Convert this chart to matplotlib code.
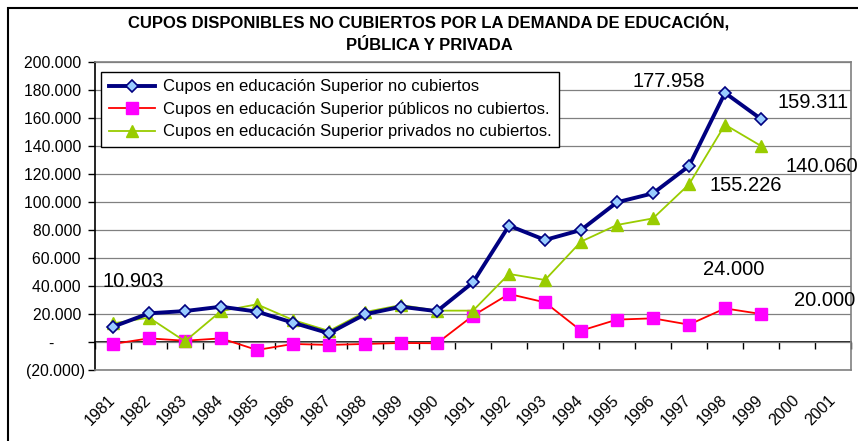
import matplotlib.pyplot as plt
import matplotlib.patches as mpatches
from matplotlib.ticker import FixedLocator, FuncFormatter

years = [str(y) for y in range(1981, 2002)]

# values (1981-1999, nothing for 2000/2001)
total = [10903, 20500, 22100, 25200, 21700, 13800, 6200, 19800, 25200, 22000,
         42600, 83100, 72900, 80000, 99800, 106200, 125700, 177958, 159311]
publicos = [-1400, 2600, 900, 2600, -5700, -1400, -2100, -1400, -700, -900,
            18800, 34300, 28300, 8100, 16000, 16900, 12400, 24000, 20000]
privados = [13300, 17400, 500, 22100, 26900, 15700, 7900, 21400, 26400, 22400,
            22400, 48600, 44300, 71700, 83600, 88300, 112600, 155226, 140060]

labels = ["Cupos en educación Superior no cubiertos",
          "Cupos en educación Superior públicos no cubiertos.",
          "Cupos en educación Superior privados no cubiertos."]

plt.rcParams['font.family'] = ['Liberation Sans', 'DejaVu Sans']

fig = plt.figure(figsize=(8.58, 4.41), dpi=100)
ax = fig.add_axes([95 / 858, 1 - 370 / 441, 756 / 858, 308 / 441])

x = list(range(len(total)))
ax.plot(x, total, color='#000080', lw=2.8, marker='D', ms=6.5,
        mfc='#99CCFF', mec='#000080', mew=1.2, label=labels[0], zorder=5)
ax.plot(x, publicos, color='#FF0000', lw=1.3, marker='s', ms=8,
        mfc='#FF00FF', mec='#FF00FF', label=labels[1], zorder=4)
ax.plot(x, privados, color='#99CC00', lw=1.3, marker='^', ms=9,
        mfc='#99CC00', mec='#99CC00', label=labels[2], zorder=4)

ax.set_xlim(-0.5, len(years) - 0.5)
ax.set_ylim(-20000, 200000)

# y axis
def fmt(v, pos):
    if v == 0:
        return '-       '
    s = f"{abs(v):,.0f}".replace(',', '.')
    return f"({s})" if v < 0 else s + ' '

ax.yaxis.set_major_locator(FixedLocator(range(-20000, 200001, 20000)))
ax.yaxis.set_major_formatter(FuncFormatter(fmt))
ax.tick_params(axis='y', direction='out', length=5, width=1, labelsize=11.3,
               pad=2, color='black')
ax.grid(axis='y', color='#808080', lw=0.9)
ax.set_axisbelow(True)

# x labels at category centers
ax.set_xticks(range(len(years)))
ax.set_xticklabels(years, rotation=45, ha='right', va='center',
                   rotation_mode='anchor', fontsize=11.5)
ax.tick_params(axis='x', length=0, pad=20)
for t in ax.get_xticklabels():
    t.set_x(t.get_position()[0])

# zero line with the category ticks
sec = ax.secondary_xaxis(20000 / 220000)
sec.set_xticks([i - 0.5 for i in range(len(years) + 1)])
sec.set_xticklabels([])
sec.tick_params(direction='out', length=5, width=1, color='black')
sec.spines['bottom'].set_color('black')
sec.spines['bottom'].set_linewidth(1.2)

for side in ['top', 'right', 'bottom']:
    ax.spines[side].set_color('#808080')
    ax.spines[side].set_linewidth(1.2)
ax.spines['left'].set_color('black')
ax.spines['left'].set_linewidth(1.2)

# data labels as placed in the original
lab_kw = dict(fontsize=14.5, color='black', ha='left', va='center')
ax.text(-0.29, 43500, '10.903', **lab_kw)
ax.text(14.42, 186000, '177.958', **lab_kw)
ax.text(18.47, 171400, '159.311', **lab_kw)
ax.text(18.67, 125700, '140.060', **lab_kw)
ax.text(16.58, 112000, '155.226', **lab_kw)
ax.text(16.39, 52000, '24.000', **lab_kw)
ax.text(18.92, 30000, '20.000', **lab_kw)

leg = ax.legend(loc='upper left', bbox_to_anchor=(0.008, 0.968),
                borderaxespad=0, fancybox=False, framealpha=1,
                edgecolor='black', fontsize=12, handlelength=2.8,
                handletextpad=0.45, labelspacing=0.45, borderpad=0.45)
leg.get_frame().set_linewidth(1.0)

fig.text(0.5, 1 - 22 / 441, 'CUPOS DISPONIBLES NO CUBIERTOS POR LA DEMANDA DE EDUCACIÓN,',
         ha='center', va='center', fontsize=12, fontweight='bold')
fig.text(0.5, 1 - 45 / 441, 'PÚBLICA Y PRIVADA',
         ha='center', va='center', fontsize=12, fontweight='bold')

# outer chart border (right and bottom edges fall outside the image)
fig.patches.append(mpatches.Rectangle((8 / 858, -0.05), 1.0, 1 - 8 / 441 + 0.05,
                                      transform=fig.transFigure, fill=False,
                                      edgecolor='black', lw=1.5))

fig.savefig('out.png', dpi=100)
